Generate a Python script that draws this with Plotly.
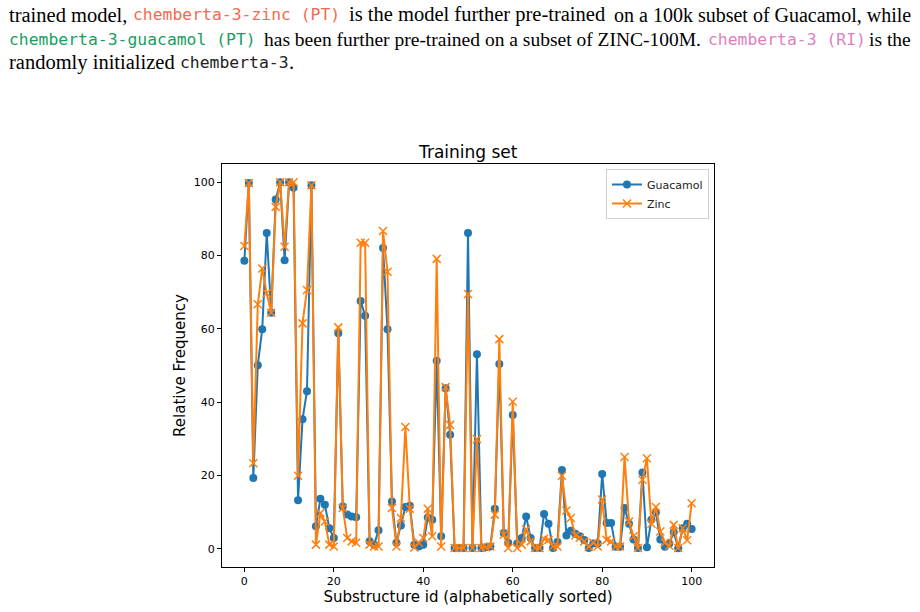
import plotly.graph_objects as go

substructure_ids = list(range(101))
guacamol = [78.6, 99.8, 19.3, 50.1, 59.9, 86.2, 64.4, 95.3, 100.0, 78.7,
            100.0, 98.5, 13.2, 35.3, 43.0, 99.2, 6.1, 13.6, 12.0, 5.6,
            2.9, 58.8, 11.5, 9.3, 8.8, 8.6, 67.6, 63.6, 2.0, 1.1,
            5.0, 82.1, 59.9, 12.9, 1.6, 6.3, 11.4, 11.7, 1.1, 0.6,
            1.1, 8.5, 7.9, 51.3, 3.4, 43.8, 31.1, 0.2, 0.2, 0.2,
            86.2, 0.2, 53.1, 0.2, 0.4, 0.6, 10.9, 50.4, 4.3, 1.6,
            36.5, 1.4, 2.9, 8.8, 2.9, 0.2, 0.2, 9.5, 6.8, 0.2,
            1.8, 21.5, 3.6, 4.9, 4.1, 3.4, 2.4, 0.2, 1.4, 1.4,
            20.4, 7.0, 7.0, 0.5, 0.5, 11.1, 6.8, 2.5, 0.2, 20.8,
            0.4, 7.9, 9.9, 2.5, 0.5, 1.4, 4.5, 0.1, 5.6, 6.8,
            5.4]
zinc = [82.6, 99.8, 23.3, 66.7, 76.5, 69.7, 64.4, 93.3, 100.0, 82.4,
        100.0, 100.0, 19.9, 61.5, 70.6, 99.2, 1.1, 9.7, 7.4, 1.1,
        0.6, 60.4, 11.1, 2.9, 2.0, 1.6, 83.5, 83.5, 1.1, 0.6,
        0.6, 86.7, 75.6, 11.1, 0.6, 8.4, 33.2, 10.9, 0.3, 1.6,
        2.9, 10.9, 3.4, 79.1, 0.6, 44.1, 33.8, 0.2, 0.2, 0.2,
        69.5, 0.2, 29.9, 0.2, 0.4, 0.6, 9.3, 57.2, 3.8, 0.2,
        40.1, 0.2, 1.1, 5.3, 2.0, 0.2, 0.2, 2.7, 2.4, 0.6,
        0.6, 19.9, 10.4, 8.4, 3.6, 3.0, 2.0, 0.5, 1.6, 0.6,
        13.4, 2.4, 2.0, 0.6, 0.6, 25.0, 7.4, 3.4, 0.2, 18.8,
        24.7, 6.8, 11.4, 4.7, 1.6, 0.8, 6.5, 0.2, 5.6, 2.3,
        12.4]
x_ticks = [0, 20, 40, 60, 80, 100]
y_ticks = [0, 20, 40, 60, 80, 100]

W, H = 920, 612
L, R, T, B = 222, 206, 164, 45

def px(x):
    return (x - L) / (W - L - R)

def py(y):
    return (H - B - y) / (H - T - B)

fig = go.Figure()
fig.add_trace(go.Scatter(
    x=substructure_ids, y=guacamol, name="Guacamol", mode="lines+markers",
    line=dict(color="#1f77b4", width=2),
    marker=dict(symbol="circle", size=8, color="#1f77b4"),
))
fig.add_trace(go.Scatter(
    x=substructure_ids, y=zinc, name="Zinc", mode="lines+markers",
    line=dict(color="#ff7f0e", width=2),
    marker=dict(symbol="x-thin", size=8, color="#ff7f0e",
                line=dict(color="#ff7f0e", width=1.5)),
))

axis_common = dict(
    showgrid=False, zeroline=False, showline=True, linecolor="black",
    linewidth=1, mirror=True, ticks="outside", ticklen=4, tickwidth=1,
    tickcolor="black", tickfont=dict(family="DejaVu Sans", size=11, color="black"),
    automargin=False,
)
fig.update_xaxes(range=[-5, 105], tickvals=x_ticks,
                 title=dict(text="Substructure id (alphabetically sorted)",
                            font=dict(family="DejaVu Sans", size=15, color="black"),
                            standoff=4),
                 **axis_common)
fig.update_yaxes(range=[-5, 105], tickvals=y_ticks,
                 title=dict(text="Relative Frequency",
                            font=dict(family="DejaVu Sans", size=15, color="black"),
                            standoff=4),
                 **axis_common)

serif = dict(family="Liberation Serif", size=20.5, color="black")
serif_m = dict(family="Liberation Serif", size=20, color="black")
serif_c = dict(family="Liberation Serif", size=19.5, color="black")
mono = lambda c: dict(family="DejaVu Sans Mono", size=16.4, color=c)

texts = [
    # (text, x_px, y_px, anchor, font)
    ("trained model,", 7, 15, "left", serif),
    ("chemberta-3-zinc (PT)", 131, 15, "left", mono("#f26b4e")),
    ("is the model further pre-trained", 347, 15, "left", serif),
    ("on a 100k subset of Guacamol, while", 913, 15, "right", serif_m),
    ("chemberta-3-guacamol (PT)", 7, 39, "left", mono("#1a9e60")),
    ("has been further pre-trained on a subset of ZINC-100M.", 262, 39, "left", serif_c),
    ("chemberta-3 (RI)", 706, 39, "left", mono("#e07fbf")),
    ("is the", 913, 39, "right", serif_c),
    ("randomly initialized", 7, 62, "left", serif),
    ("chemberta-3", 178, 62, "left", mono("#222222")),
    (".", 287, 62, "left", serif),
]
annotations = []
for t, x, y, anc, f in texts:
    annotations.append(dict(text=t, x=px(x), y=py(y), xref="paper", yref="paper",
                            xanchor=anc, yanchor="middle", showarrow=False,
                            font=f))
annotations.append(dict(text="Training set", x=0.5, y=py(152), xref="paper", yref="paper",
                        xanchor="center", yanchor="middle", showarrow=False,
                        font=dict(family="DejaVu Sans", size=17, color="black")))

fig.update_layout(
    width=W, height=H, margin=dict(l=L, r=R, t=T, b=B),
    paper_bgcolor="white", plot_bgcolor="white",
    annotations=annotations,
    showlegend=True,
    legend=dict(x=px(709), y=py(169), xanchor="right", yanchor="top",
                bordercolor="#d0d0d0", borderwidth=1, bgcolor="rgba(255,255,255,0.8)",
                font=dict(family="DejaVu Sans", size=11, color="#222222"),
                itemwidth=30, tracegroupgap=0),
)

fig.write_html("out.html")
